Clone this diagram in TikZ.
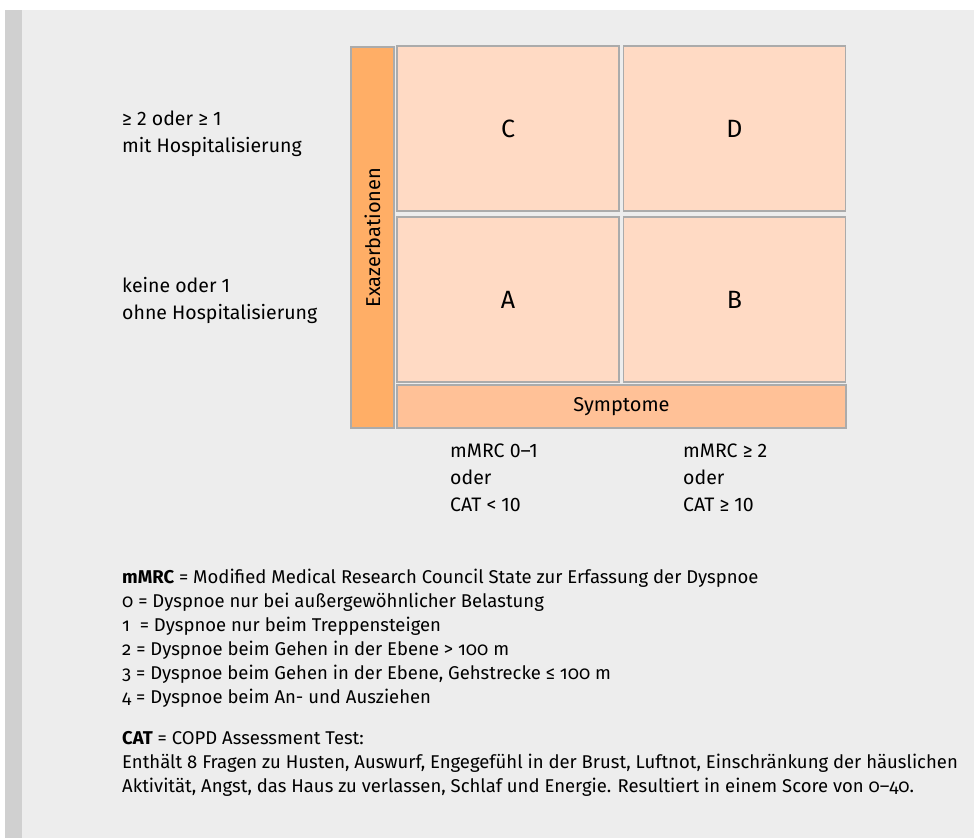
\documentclass[tikz,border=0pt]{standalone}
\usepackage{fontspec}
\setmainfont{Fira Sans}
\newfontfamily\oldnum[Numbers=OldStyle]{Fira Sans}

\definecolor{panelgray}{HTML}{EDEDED}
\definecolor{bargray}{HTML}{D0D0D0}
\definecolor{cellfill}{HTML}{FFDAC4}
\definecolor{exazfill}{HTML}{FFAE66}
\definecolor{symptfill}{HTML}{FFC197}
\definecolor{frame}{HTML}{ABABAB}

\begin{document}
\begin{tikzpicture}[x=1pt,y=-1pt,
    cell/.style={draw=frame,line width=1.3pt,fill=cellfill,inner sep=0pt,
        minimum width=222pt,minimum height=165pt,font=\fontsize{25}{30}\selectfont},
    axisbar/.style={draw=frame,line width=1.3pt,inner sep=0pt,font=\fontsize{20}{24}\selectfont},
    label/.style={align=left,inner sep=0pt,font=\fontsize{19.5}{27}\selectfont},
    legend/.style={align=left,inner sep=0pt,font=\fontsize{18.5}{24}\selectfont\oldnum}]
\useasboundingbox (0,0) rectangle (974,838);
% background
\fill[white] (0,0) rectangle (974,838);
\fill[panelgray] (22,10) rectangle (974,838);
\fill[bargray] (5,10) rectangle (22,838);

% the four groups
\node[cell] (C) at (508,128.5) {C};
\node[cell] (D) at (734.5,128.5) {D};
\node[cell] (A) at (508,299.5) {A};
\node[cell] (B) at (734.5,299.5) {B};

% axes
\node[axisbar,fill=exazfill,minimum width=381pt,minimum height=43pt,rotate=90]
    (exaz) at (372.5,237.5) {Exazerbationen};
\node[axisbar,fill=symptfill,minimum width=449pt,minimum height=43pt]
    (sympt) at (621.5,406.5) {Symptome};

% row labels
\node[label,anchor=west] (high) at (122,134) {≥ 2 oder ≥ 1\\mit Hospitalisierung};
\node[label,anchor=west] (low) at (122,300) {keine oder 1\\ohne Hospitalisierung};

% column labels
\node[label,anchor=north west] (few) at (450,444) {mMRC 0–1\\oder\\CAT < 10};
\node[label,anchor=north west] (many) at (683,444) {mMRC ≥ 2\\oder\\CAT ≥ 10};

% legend
\node[legend,anchor=north west] (mmrc) at (122,568.5) {\textbf{mMRC} = Modified Medical Research Council State zur Erfassung der Dyspnoe\\
0 = Dyspnoe nur bei außergewöhnlicher Belastung\\
1 \ = Dyspnoe nur beim Treppensteigen\\
2 = Dyspnoe beim Gehen in der Ebene > 100 m\\
3 = Dyspnoe beim Gehen in der Ebene, Gehstrecke ≤ 100 m\\
4 = Dyspnoe beim An- und Ausziehen};
\node[legend,anchor=north west] (cat) at (122,731) {\textbf{CAT} = COPD Assessment Test:\\
Enthält 8 Fragen zu Husten, Auswurf, Engegefühl in der Brust, Luftnot, Einschränkung der häuslichen\\
Aktivität, Angst, das Haus zu verlassen, Schlaf und Energie. Resultiert in einem Score von 0–40.};
\end{tikzpicture}
\end{document}
